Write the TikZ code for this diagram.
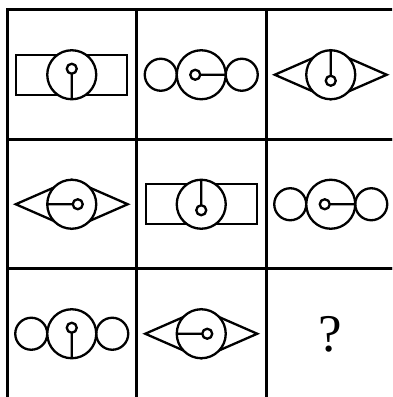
\documentclass[tikz,border=0pt]{standalone}
\usepackage{fontspec}
\setmainfont{Liberation Serif}
\begin{document}
\begin{tikzpicture}[x=1pt,y=1pt,
  cell/.style={line width=3pt},
  fig/.style={line width=2.3pt},
  bar/.pic={\draw[fig] (-55.5,-20) rectangle (55.5,20);
            \draw[fig,fill=white] (0,0) circle[radius=24.5];},
  beads/.pic={\draw[fig] (-40.5,0) circle[radius=16] (40.5,0) circle[radius=16];
              \draw[fig,fill=white] (0,0) circle[radius=24.5];},
  eye/.pic={\draw[fig] (-56,0) -- (0,24.5) -- (56,0) -- (0,-24.5) -- cycle;
            \draw[fig,fill=white] (0,0) circle[radius=24.5];},
  hand/.pic={\draw[fig] (-6,0) circle[radius=5] (-1,0) -- (24.5,0);}]
  \useasboundingbox (0,0) rectangle (392,397);
  \clip (0,0) rectangle (392,397);
  \foreach \i in {0,1,2}
    \foreach \j in {0,1,2}
      \draw[cell] (7+129.5*\i,387-129.5*\j) rectangle ++(129.5,-129.5);
  \pic at (71.75,322.25) {bar};   \pic[rotate=-90] at (71.75,322.25) {hand};
  \pic at (201.25,322.25) {beads}; \pic at (201.25,322.25) {hand};
  \pic at (330.75,322.25) {eye};   \pic[rotate=90] at (330.75,322.25) {hand};
  \pic at (71.75,192.75) {eye};    \pic[rotate=180] at (71.75,192.75) {hand};
  \pic at (201.25,192.75) {bar};   \pic[rotate=90] at (201.25,192.75) {hand};
  \pic at (330.75,192.75) {beads}; \pic at (330.75,192.75) {hand};
  \pic at (71.75,63.25) {beads};   \pic[rotate=-90] at (71.75,63.25) {hand};
  \pic at (201.25,63.25) {eye};    \pic[rotate=180] at (201.25,63.25) {hand};
  \node[font=\fontsize{53}{60}\selectfont,inner sep=0pt] (q) at (330.75,63) {?};
\end{tikzpicture}
\end{document}
